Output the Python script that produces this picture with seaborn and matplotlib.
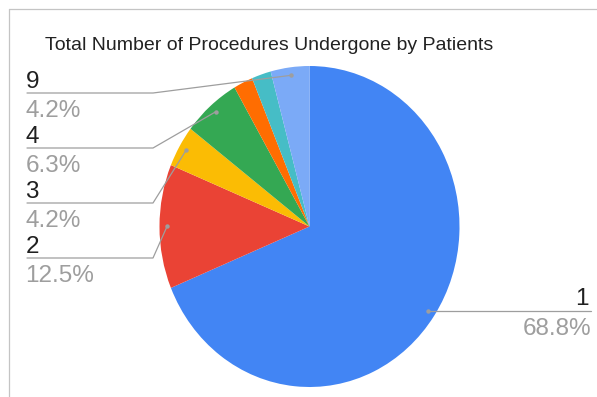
import numpy as np
from decimal import Decimal, ROUND_HALF_UP
import matplotlib
matplotlib.use("Agg")
import matplotlib.pyplot as plt
from matplotlib.lines import Line2D
import seaborn as sns

# Number of procedures per patient and how many patients had each count
categories = ["1", "2", "3", "4", "5", "6", "9"]
counts = [33, 6, 2, 3, 1, 1, 2]
slice_colors = ["#4285F4", "#EA4335", "#FBBC04", "#34A853", "#FF6D01", "#46BDC6", "#7BAAF7"]
title = "Total Number of Procedures Undergone by Patients"

sns.set_theme(style="white")
plt.rcParams["font.family"] = ["Liberation Sans", "DejaVu Sans"]

W, H = 597, 397
fig = plt.figure(figsize=(W / 100, H / 100), dpi=100)

# chart frame lines (top and left)
fig.add_artist(Line2D([8.5, W], [H - 9, H - 9], transform=None, color="#c4c4c4", lw=0.9))
fig.add_artist(Line2D([8.5, 8.5], [0, H - 9], transform=None, color="#c4c4c4", lw=0.9))

ax = fig.add_axes([159.5 / W, 10 / H, 300 / W, 321 / H])
palette = sns.color_palette(slice_colors)
wedges, _ = ax.pie(counts, colors=palette, startangle=90, counterclock=False,
                   radius=1, wedgeprops=dict(linewidth=0))
ax.set_aspect("auto")
ax.set_xlim(-1, 1)
ax.set_ylim(-1, 1)
ax.axis("off")

fig.text(269 / W, 1 - 49.5 / H, title, ha="center", va="baseline",
         fontsize=14, color="#222222")

total = sum(counts)
pcts = [100 * c / total for c in counts]


def fmt_pct(p):
    q = Decimal(repr(p)).quantize(Decimal("0.1"), rounding=ROUND_HALF_UP)
    return f"{q}%"


# left-side label rows: (name baseline, leader line y, percent baseline) from top
left_rows = {"9": (88, 93, 117), "4": (143, 148, 172), "3": (198, 203, 227), "2": (253, 258, 282)}
line_col = "#9e9e9e"
pct_col = "#9e9e9e"
name_col = "#202020"
fs_name = 17.5
fs_pct = 17.5

fig.canvas.draw()
for w, cat, p in zip(wedges, categories, pcts):
    if p < 3:
        continue
    mid = np.deg2rad((w.theta1 + w.theta2) / 2)
    xa, ya = ax.transData.transform((0.95 * np.cos(mid), 0.95 * np.sin(mid)))
    fig.add_artist(Line2D([xa], [ya], transform=None, marker="o", ms=3.2,
                          color=line_col, mec="none", zorder=5))
    if cat in left_rows:
        yb, yl, yp = left_rows[cat]
        fig.add_artist(Line2D([xa, 153, 27], [ya, H - yl, H - yl], transform=None,
                              color=line_col, lw=0.9, zorder=4))
        fig.text(25.5 / W, 1 - yb / H, cat, ha="left", va="baseline",
                 fontsize=fs_name, color=name_col)
        fig.text(25.5 / W, 1 - yp / H, fmt_pct(p), ha="left", va="baseline",
                 fontsize=fs_pct, color=pct_col)
    else:
        fig.add_artist(Line2D([xa, 591], [ya, ya], transform=None,
                              color=line_col, lw=0.9, zorder=4))
        fig.text(589 / W, 1 - 305 / H, cat, ha="right", va="baseline",
                 fontsize=fs_name, color=name_col)
        fig.text(591 / W, 1 - 335 / H, fmt_pct(p), ha="right", va="baseline",
                 fontsize=fs_pct, color=pct_col)

fig.savefig("out.png", dpi=100)
